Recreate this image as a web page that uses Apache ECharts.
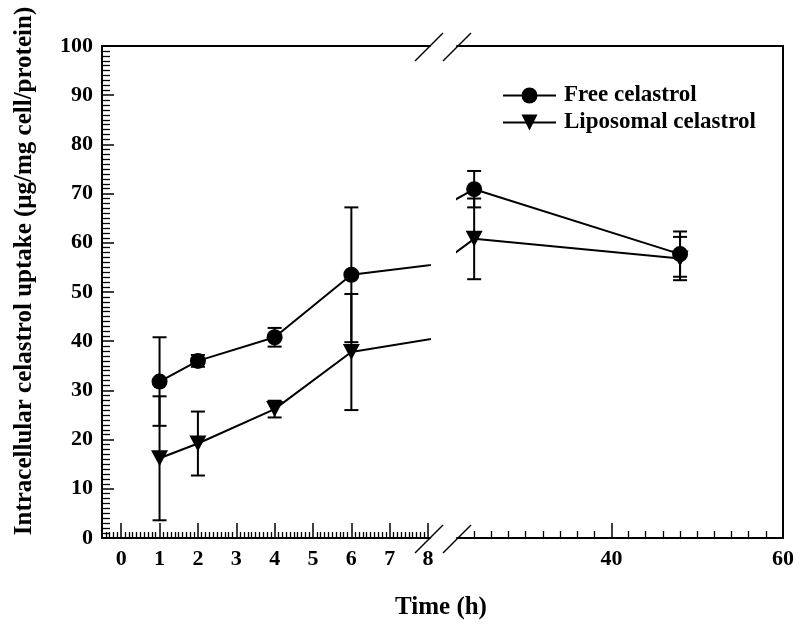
<!DOCTYPE html>
<html>
<head>
<meta charset="utf-8">
<script src="https://cdn.jsdelivr.net/npm/echarts@6/dist/echarts.min.js"></script>
<style>html,body{margin:0;padding:0;background:#fff;}#c{width:801px;height:631px;}</style>
</head>
<body>
<div id="c"></div>
<script>
// ---- data ----
var times = [1, 2, 4, 6, 24, 48];
var freeMean = [31.8, 36.0, 40.8, 53.5, 70.9, 57.7];
var freeSD   = [9.0, 1.2, 1.9, 13.7, 3.7, 4.6];
var lipoMean = [16.2, 19.2, 26.2, 37.8, 60.8, 56.8];
var lipoSD   = [12.6, 6.5, 1.7, 11.8, 8.2, 4.4];
var seriesNames = ['Free celastrol', 'Liposomal celastrol'];
var leftTickLabels = [0, 1, 2, 3, 4, 5, 6, 7, 8];
var rightTickLabels = [40, 60];
var yTickLabels = [0, 10, 20, 30, 40, 50, 60, 70, 80, 90, 100];

var leftRange = [-0.5, 8.05];
var rightRange = [22, 60];

var leftMinor = [];
for (var i = -4; i <= 80; i++) { if (i % 10 !== 0) leftMinor.push(+(i / 10).toFixed(1)); }
var rightMinor = [];
for (var v = 24; v < 60; v += 2) { if (v !== 40) rightMinor.push(v); }

var FONT = 'Liberation Serif';
var TRI = 'path://M0,0 L20,0 L10,18 Z';

function pairs(xs, ys) { return xs.map(function (x, k) { return [x, ys[k]]; }); }
function errData(range) {
  var out = [];
  times.forEach(function (t, k) {
    if (t >= range[0] && t <= range[1]) {
      out.push([t, freeMean[k], freeSD[k]]);
      out.push([t, lipoMean[k], lipoSD[k]]);
    }
  });
  return out;
}
function renderErr(params, api) {
  var x = api.value(0), y = api.value(1), e = api.value(2);
  var top = api.coord([x, y + e]);
  var bot = api.coord([x, y - e]);
  var w = 7;
  var st = { stroke: '#000', lineWidth: 2 };
  return { type: 'group', children: [
    { type: 'line', shape: { x1: top[0], y1: top[1], x2: bot[0], y2: bot[1] }, style: st },
    { type: 'line', shape: { x1: top[0] - w, y1: top[1], x2: top[0] + w, y2: top[1] }, style: st },
    { type: 'line', shape: { x1: bot[0] - w, y1: bot[1], x2: bot[0] + w, y2: bot[1] }, style: st }
  ]};
}

var labelStyle = { color: '#000', fontFamily: FONT, fontWeight: 'bold', fontSize: 22 };
var blackLine = { color: '#000', width: 2 };

function mainX(grid, range, labels) {
  return {
    type: 'value', gridIndex: grid, position: 'bottom', min: range[0], max: range[1],
    axisLine: { show: true, onZero: false, lineStyle: blackLine },
    axisTick: { show: true, inside: true, length: 15, customValues: labels, lineStyle: { color: '#000', width: 1.5 } },
    axisLabel: Object.assign({ customValues: labels, margin: 10 }, labelStyle),
    splitLine: { show: false }
  };
}
function minorX(grid, range, vals, len) {
  return {
    type: 'value', gridIndex: grid, position: 'bottom', min: range[0], max: range[1],
    axisLine: { show: false, onZero: false },
    axisTick: { show: true, inside: true, length: len, customValues: vals, lineStyle: { color: '#000', width: 1.3 } },
    axisLabel: { show: false }, splitLine: { show: false }
  };
}
function topX(grid, range) {
  return {
    type: 'value', gridIndex: grid, position: 'top', min: range[0], max: range[1],
    axisLine: { show: true, onZero: false, lineStyle: blackLine },
    axisTick: { show: false }, axisLabel: { show: false }, splitLine: { show: false }
  };
}

var option = {
  animation: false,
  backgroundColor: '#fff',
  grid: [
    { left: 102, top: 46, width: 328, height: 492 },
    { left: 457, top: 46, width: 326, height: 492 }
  ],
  xAxis: [
    mainX(0, leftRange, leftTickLabels),
    minorX(0, leftRange, leftMinor, 6),
    topX(0, leftRange),
    mainX(1, rightRange, rightTickLabels),
    minorX(1, rightRange, rightMinor, 7),
    topX(1, rightRange)
  ],
  yAxis: [
    {
      type: 'value', gridIndex: 0, min: 0, max: 100, interval: 10, position: 'left',
      axisLine: { show: true, onZero: false, lineStyle: blackLine },
      axisTick: { show: true, inside: true, length: 12, lineStyle: { color: '#000', width: 1.5 } },
      minorTick: { show: true, splitNumber: 10, length: 8, lineStyle: { color: '#000', width: 1.3 } },
      axisLabel: Object.assign({ margin: 9 }, labelStyle),
      splitLine: { show: false }
    },
    {
      type: 'value', gridIndex: 1, min: 0, max: 100, position: 'right',
      axisLine: { show: true, onZero: false, lineStyle: blackLine },
      axisTick: { show: false }, axisLabel: { show: false }, splitLine: { show: false }
    }
  ],
  legend: {
    data: seriesNames, orient: 'vertical', left: 497, top: 79,
    itemWidth: 53, itemHeight: 20, itemGap: 4,
    lineStyle: { width: 2, color: '#000' },
    textStyle: { color: '#000', fontFamily: FONT, fontWeight: 'bold', fontSize: 23, padding: [0, 0, 0, 3] }
  },
  graphic: [
    { type: 'line', shape: { x1: 415, y1: 61, x2: 443, y2: 33 }, style: { stroke: '#000', lineWidth: 1.5 } },
    { type: 'line', shape: { x1: 443, y1: 61, x2: 471, y2: 33 }, style: { stroke: '#000', lineWidth: 1.5 } },
    { type: 'line', shape: { x1: 415, y1: 553, x2: 443, y2: 525 }, style: { stroke: '#000', lineWidth: 1.5 } },
    { type: 'line', shape: { x1: 443, y1: 553, x2: 471, y2: 525 }, style: { stroke: '#000', lineWidth: 1.5 } },
    { type: 'text', x: 441, y: 608, style: { text: 'Time (h)', fill: '#000', font: 'bold 25px "Liberation Serif"', textAlign: 'center', textVerticalAlign: 'middle' } },
    { type: 'text', x: 25, y: 271, rotation: Math.PI / 2, style: { text: 'Intracellular celastrol uptake (μg/mg cell/protein)', fill: '#000', font: 'bold 25px "Liberation Serif"', textAlign: 'center', textVerticalAlign: 'middle' } }
  ],
  series: []
};

[0, 1].forEach(function (g) {
  var xi = g === 0 ? 0 : 3;
  option.series.push({
    type: 'custom', name: 'err' + g, xAxisIndex: xi, yAxisIndex: g,
    renderItem: renderErr, data: errData(g === 0 ? leftRange : rightRange), z: 2
  });
  option.series.push({
    type: 'line', name: seriesNames[0], xAxisIndex: xi, yAxisIndex: g,
    data: pairs(times, freeMean), symbol: 'circle', symbolSize: 16, clip: true,
    lineStyle: { color: '#000', width: 2 }, itemStyle: { color: '#000' }, z: 3
  });
  option.series.push({
    type: 'line', name: seriesNames[1], xAxisIndex: xi, yAxisIndex: g,
    data: pairs(times, lipoMean), symbol: TRI, symbolSize: [17, 16], clip: true,
    lineStyle: { color: '#000', width: 2 }, itemStyle: { color: '#000' }, z: 3
  });
});

var chart = echarts.init(document.getElementById('c'));
chart.setOption(option);
</script>
</body>
</html>
